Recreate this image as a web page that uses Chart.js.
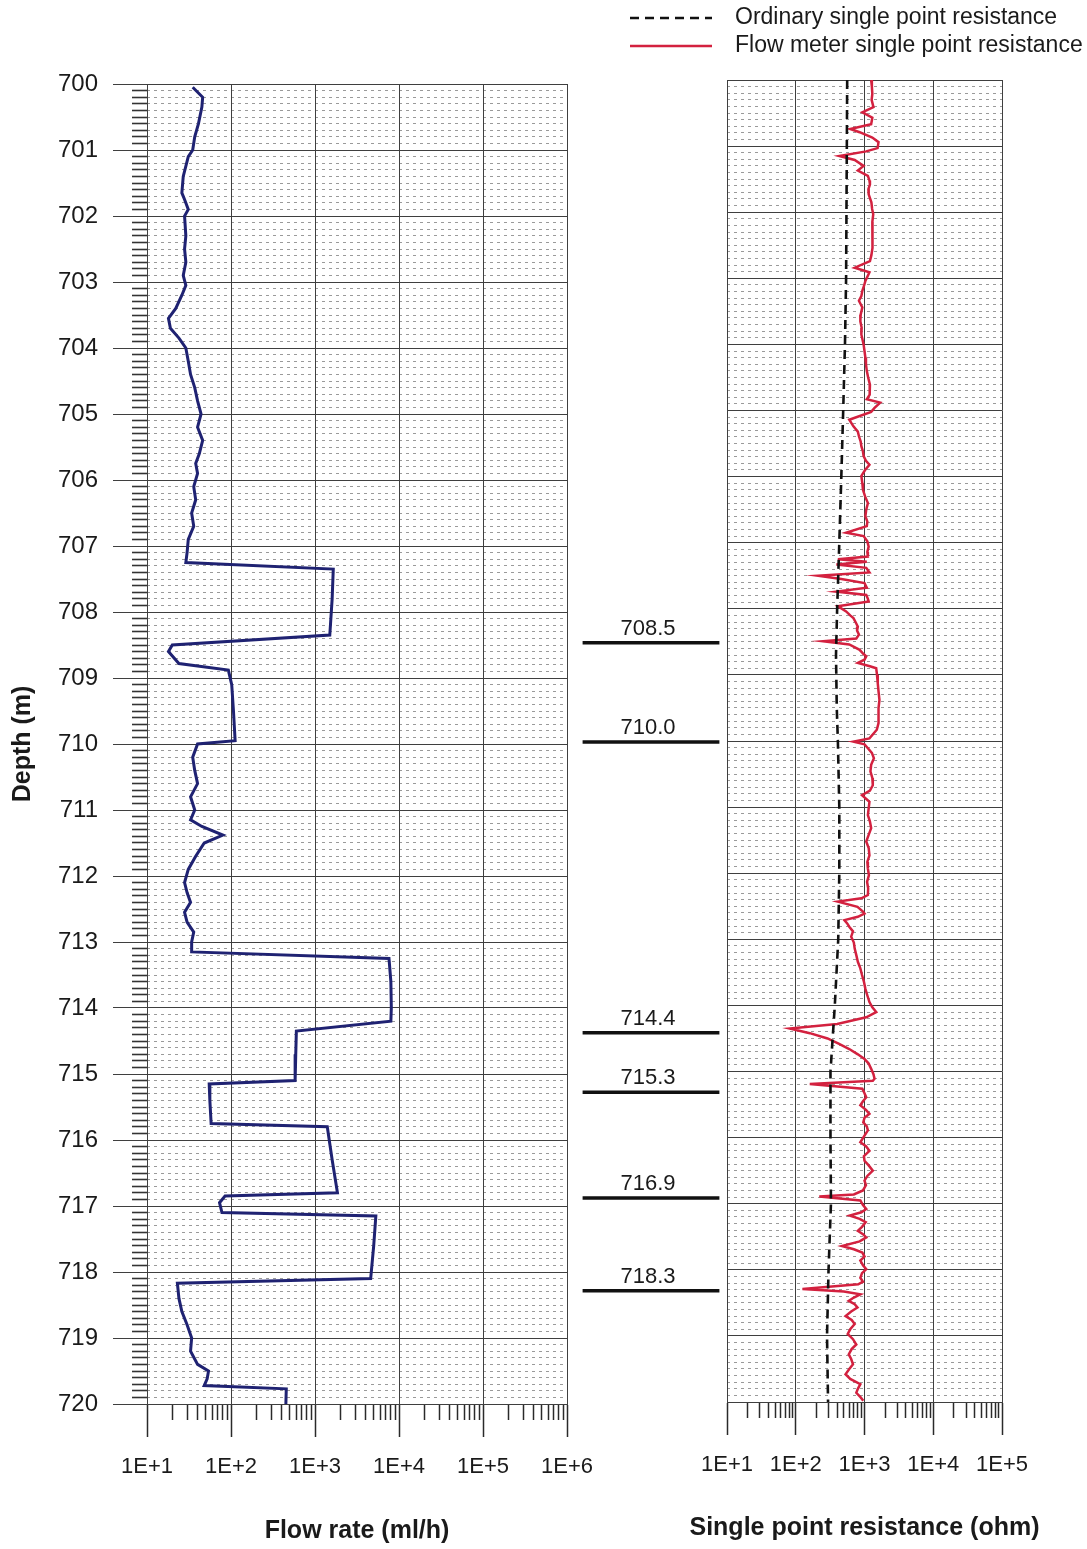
<!DOCTYPE html>
<html>
<head>
<meta charset="utf-8">
<title>Flow rate and single point resistance, 700-720 m</title>
<script src="https://cdn.jsdelivr.net/npm/chart.js@4.4.1/dist/chart.umd.min.js"></script>
<style>
  html, body { margin: 0; padding: 0; background: #fff; }
  #page { position: relative; width: 1087px; height: 1549px; overflow: hidden; }
  #page canvas { position: absolute; top: 0; }
</style>
</head>
<body>
<div id="page">
  <canvas id="flowChart" width="610" height="1549" style="left:0"></canvas>
  <canvas id="sprChart" width="487" height="1549" style="left:600px"></canvas>
  <canvas id="markChart" width="152" height="1549" style="left:575px"></canvas>
</div>
<script>
// logged interval (m)
const depthTop = 700;
const depthBottom = 720;
const depthTicks = [700, 701, 702, 703, 704, 705, 706, 707, 708, 709, 710,
                    711, 712, 713, 714, 715, 716, 717, 718, 719, 720];

const flowDecades = [1e1, 1e2, 1e3, 1e4, 1e5, 1e6];
const flowTickLabels = ['1E+1', '1E+2', '1E+3', '1E+4', '1E+5', '1E+6'];
const sprDecades = [1e1, 1e2, 1e3, 1e4, 1e5];
const sprTickLabels = ['1E+1', '1E+2', '1E+3', '1E+4', '1E+5'];

// flow rate log, [depth m, ml/h]
const flowRate = [
  [700.05, 35], [700.2, 46], [700.35, 45], [700.6, 41], [700.8, 37], [701.0, 35],
  [701.1, 31], [701.4, 27], [701.65, 26], [701.75, 28], [701.9, 31], [702.0, 28],
  [702.3, 29], [702.5, 28], [702.7, 29], [702.9, 27], [703.05, 29], [703.2, 26],
  [703.4, 22], [703.55, 18], [703.7, 19], [703.85, 24], [704.0, 29], [704.2, 31],
  [704.4, 33], [704.6, 37], [704.8, 40], [705.0, 44], [705.2, 40], [705.4, 46],
  [705.6, 42], [705.75, 38], [705.9, 40], [706.1, 36], [706.3, 38], [706.5, 34],
  [706.7, 36], [706.9, 31], [707.1, 30], [707.25, 29], [707.35, 1650], [707.8, 1600],
  [708.35, 1500], [708.5, 20], [708.6, 18], [708.78, 24], [708.88, 93], [709.1, 102],
  [709.5, 107], [709.95, 112], [710.0, 40], [710.2, 35], [710.4, 37], [710.6, 40],
  [710.8, 33], [711.0, 37], [711.15, 33], [711.25, 45], [711.38, 80], [711.5, 48],
  [711.7, 38], [711.9, 31], [712.1, 28], [712.25, 30], [712.4, 33], [712.55, 28],
  [712.7, 30], [712.85, 36], [713.0, 34], [713.15, 34], [713.25, 7600], [713.6, 8000],
  [714.0, 8100], [714.2, 8000], [714.35, 600], [714.7, 590], [715.1, 580], [715.15, 55],
  [715.4, 56], [715.75, 58], [715.8, 1400], [716.3, 1600], [716.8, 1850], [716.85, 85],
  [716.95, 73], [717.1, 78], [717.15, 5300], [717.6, 5000], [718.1, 4600], [718.17, 23],
  [718.4, 24], [718.6, 26], [718.8, 30], [719.0, 34], [719.2, 33], [719.4, 40],
  [719.5, 54], [719.62, 52], [719.72, 48], [719.77, 455], [720.0, 450]
];

// ordinary single point resistance, [depth m, ohm]
const sprOrdinary = [
  [700, 560], [701.5, 550], [703, 540], [704, 520], [705, 490], [706, 460], [707, 430],
  [708, 400], [708.7, 385], [709.5, 395], [710, 410], [711, 430], [712, 430], [713, 415],
  [714, 370], [715, 320], [716, 320], [717, 325], [718, 300], [719, 285], [720, 295]
];

// single point resistance measured with the flow meter, [depth m, ohm]
const sprFlowMeter = [
  [700.0, 1250], [700.1, 1280], [700.21, 1300], [700.3, 1270], [700.41, 1350], [700.49, 930],
  [700.57, 1300], [700.67, 1250], [700.74, 620], [700.79, 850], [700.87, 1300], [700.94, 1600],
  [701.03, 1550], [701.08, 1060], [701.15, 430], [701.21, 720], [701.3, 970], [701.37, 800],
  [701.45, 1120], [701.52, 1180], [701.58, 1200], [701.65, 1140], [701.73, 1150], [701.85, 1260],
  [701.95, 1290], [702.03, 1340], [702.15, 1300], [702.28, 1290], [702.4, 1320], [702.54, 1310],
  [702.65, 1260], [702.74, 1200], [702.84, 720], [702.91, 1180], [703.04, 1030], [703.12, 980],
  [703.19, 930], [703.27, 900], [703.34, 830], [703.44, 930], [703.55, 880], [703.65, 870],
  [703.75, 910], [703.85, 900], [704.0, 970], [704.1, 1000], [704.2, 1030], [704.3, 1050],
  [704.4, 1080], [704.5, 1130], [704.61, 1200], [704.7, 1180], [704.76, 1200], [704.83, 1080],
  [704.88, 1690], [704.96, 1400], [705.02, 1250], [705.14, 600], [705.24, 690], [705.32, 800],
  [705.39, 830], [705.47, 880], [705.54, 900], [705.62, 950], [705.69, 970], [705.76, 1050],
  [705.82, 1180], [705.9, 1020], [705.99, 900], [706.1, 930], [706.2, 950], [706.3, 1020],
  [706.4, 1120], [706.5, 1060], [706.6, 1030], [706.68, 1100], [706.75, 1080], [706.85, 540],
  [706.9, 970], [706.98, 1100], [707.06, 1150], [707.14, 1100], [707.21, 1120], [707.25, 410],
  [707.29, 1080], [707.33, 390], [707.38, 1060], [707.45, 1180], [707.5, 210], [707.55, 460],
  [707.61, 1000], [707.68, 1080], [707.74, 390], [707.79, 1060], [707.85, 1120], [707.89, 1150],
  [707.96, 410], [708.04, 540], [708.1, 620], [708.14, 690], [708.2, 740], [708.27, 800],
  [708.33, 780], [708.39, 830], [708.45, 760], [708.49, 250], [708.54, 600], [708.62, 850],
  [708.68, 960], [708.72, 1060], [708.77, 1000], [708.82, 800], [708.87, 1200], [708.9, 1480],
  [709.0, 1520], [709.13, 1560], [709.25, 1600], [709.38, 1650], [709.5, 1600], [709.63, 1620],
  [709.73, 1580], [709.83, 1510], [709.96, 1180], [710.01, 690], [710.05, 1000], [710.11, 1120],
  [710.18, 1280], [710.26, 1370], [710.36, 1250], [710.46, 1220], [710.56, 1300], [710.67, 1320],
  [710.75, 1200], [710.82, 920], [710.92, 1180], [711.02, 1150], [711.12, 1120], [711.22, 1200],
  [711.32, 1250], [711.42, 1150], [711.52, 1060], [711.62, 1150], [711.73, 1180], [711.83, 1100],
  [711.93, 1120], [712.03, 1160], [712.13, 1090], [712.23, 1130], [712.33, 1120], [712.38, 900],
  [712.43, 410], [712.51, 790], [712.58, 950], [712.61, 1000], [712.66, 800], [712.71, 510],
  [712.76, 560], [712.81, 600], [712.88, 680], [712.96, 640], [713.05, 700], [713.14, 720],
  [713.24, 760], [713.34, 800], [713.44, 870], [713.54, 920], [713.64, 980], [713.75, 1030],
  [713.85, 1100], [713.95, 1180], [714.03, 1300], [714.1, 1480], [714.18, 1060], [714.28, 400],
  [714.35, 82], [714.42, 160], [714.5, 290], [714.58, 420], [714.66, 600], [714.74, 800],
  [714.81, 1000], [714.88, 1150], [714.96, 1250], [715.04, 1350], [715.11, 1400], [715.14, 1320],
  [715.19, 160], [715.26, 930], [715.33, 1000], [715.39, 1060], [715.45, 950], [715.51, 870],
  [715.58, 1050], [715.64, 1180], [715.7, 1000], [715.77, 960], [715.83, 1080], [715.89, 1120],
  [715.97, 1000], [716.07, 870], [716.13, 1050], [716.2, 1180], [716.28, 980], [716.35, 1000],
  [716.42, 1150], [716.5, 1320], [716.58, 1100], [716.65, 1000], [716.72, 1050], [716.8, 950],
  [716.86, 700], [716.89, 220], [716.95, 870], [717.02, 950], [717.08, 1060], [717.13, 900],
  [717.18, 610], [717.23, 850], [717.28, 1040], [717.35, 920], [717.41, 800], [717.46, 950],
  [717.51, 1060], [717.57, 850], [717.64, 470], [717.69, 700], [717.74, 930], [717.8, 1000],
  [717.86, 870], [717.93, 950], [717.99, 1060], [718.05, 920], [718.12, 870], [718.18, 950],
  [718.22, 810], [718.29, 125], [718.33, 500], [718.37, 870], [718.42, 700], [718.47, 590],
  [718.52, 720], [718.57, 790], [718.63, 640], [718.7, 530], [718.76, 650], [718.82, 720],
  [718.9, 620], [718.97, 570], [719.05, 680], [719.13, 760], [719.2, 650], [719.28, 590],
  [719.35, 640], [719.43, 680], [719.5, 600], [719.58, 530], [719.65, 620], [719.73, 870],
  [719.8, 800], [719.86, 760], [719.93, 880], [719.98, 960]
];

// depths picked out between the two logs (m)
const markerDepths = [708.5, 710.0, 714.4, 715.3, 716.9, 718.3];

const FONT = '"Liberation Sans", Arial, Helvetica, sans-serif';
const textColor = '#1a1a1a';
const gridColor = '#3f3f3f';
const dotColor = '#9a9a9a';

function toPoints(rows) {
  return rows.map(([depth, value]) => ({ x: value, y: depth }));
}

// 0.1 m rows between the metre lines
const tenths = [];
for (let i = 1; i < (depthBottom - depthTop) * 10; i++) {
  if (i % 10) tenths.push(depthTop + i / 10);
}

function minorLogTicks(decades) {
  const out = [];
  decades.slice(0, -1).forEach(d => {
    for (let m = 2; m <= 9; m++) out.push(m * d);
  });
  return out;
}

function panelScales(cfg) {
  const xMax = cfg.decades[cfg.decades.length - 1];
  return {
    yMinor: {
      type: 'linear', position: 'left', reverse: true,
      min: depthTop, max: depthBottom, weight: 0,
      afterBuildTicks: s => { s.ticks = tenths.map(v => ({ value: v })); },
      afterFit: s => { s.width = 0; },
      ticks: { display: false, autoSkip: false },
      grid: {
        z: -2, color: dotColor, lineWidth: 1,
        drawTicks: cfg.depthLabels, tickLength: 15, tickColor: '#333', tickWidth: 1.6, tickBorderDash: []
      },
      border: { display: false, dash: [3, 4] }
    },
    y: {
      type: 'linear', position: 'left', reverse: true,
      min: depthTop, max: depthBottom, weight: 1,
      afterBuildTicks: s => { s.ticks = depthTicks.map(v => ({ value: v })); },
      afterFit: s => { s.width = cfg.yWidth; },
      ticks: {
        display: cfg.depthLabels, autoSkip: false, padding: 15,
        font: { family: FONT, size: 24 }, color: textColor
      },
      grid: { color: gridColor, lineWidth: 1, drawTicks: cfg.depthLabels, tickLength: 34, tickColor: gridColor },
      border: { color: gridColor },
      title: {
        display: cfg.depthLabels, text: 'Depth (m)', color: textColor,
        font: { family: FONT, size: 25, weight: 'bold' }, padding: { top: 8, bottom: 0 }
      }
    },
    xMinor: {
      type: 'logarithmic', position: 'bottom', min: 10, max: xMax, weight: 0,
      afterBuildTicks: s => { s.ticks = minorLogTicks(cfg.decades).map(v => ({ value: v })); },
      afterFit: s => { s.height = 0; },
      ticks: { display: false, autoSkip: false },
      grid: { drawOnChartArea: false, tickLength: 16, tickColor: '#2a2a2a', tickWidth: 1.5 },
      border: { display: false }
    },
    x: {
      type: 'logarithmic', position: 'bottom', min: 10, max: xMax, weight: 1,
      afterBuildTicks: s => { s.ticks = cfg.decades.map(v => ({ value: v })); },
      afterFit: s => { s.height = cfg.xHeight; },
      ticks: {
        autoSkip: false, maxRotation: 0, padding: 17,
        font: { family: FONT, size: 22 }, color: textColor,
        callback: (v, i) => cfg.tickLabels[i]
      },
      grid: { color: gridColor, lineWidth: 1, tickLength: 33, tickColor: '#2a2a2a', tickWidth: 1.5 },
      border: { color: gridColor }
    }
  };
}

// x axis caption centred under the plot area; drawn here so a caption wider
// than the plot is not squeezed to fit
const axisCaption = {
  id: 'axisCaption',
  afterDraw(chart, args, opts) {
    const { ctx, chartArea, scales: { x } } = chart;
    ctx.save();
    ctx.font = 'bold 25px ' + FONT;
    ctx.fillStyle = textColor;
    ctx.textAlign = 'center';
    ctx.textBaseline = 'middle';
    ctx.fillText(opts.text, (chartArea.left + chartArea.right) / 2, x.bottom - opts.gap);
    ctx.restore();
  }
};

const baseOptions = {
  responsive: false,
  animation: false,
  devicePixelRatio: 1,
  indexAxis: 'y',
  elements: { point: { radius: 0 } }
};

// flow rate panel
new Chart(document.getElementById('flowChart'), {
  type: 'line',
  data: {
    datasets: [{
      label: 'Flow rate',
      data: toPoints(flowRate),
      borderColor: '#1f2272',
      borderWidth: 3,
      tension: 0
    }]
  },
  options: {
    ...baseOptions,
    layout: { padding: { top: 84, right: 36, left: 0, bottom: 0 } },
    plugins: {
      legend: { display: false }, tooltip: { enabled: false },
      axisCaption: { text: 'Flow rate (ml/h)', gap: 18 }
    },
    scales: panelScales({
      decades: flowDecades, tickLabels: flowTickLabels,
      depthLabels: true, yWidth: 147, xHeight: 145
    })
  },
  plugins: [axisCaption]
});

// key for the resistance curves, drawn above the right panel
const seriesKey = {
  id: 'seriesKey',
  afterDraw(chart) {
    const ctx = chart.ctx;
    ctx.save();
    ctx.font = '23px ' + FONT;
    ctx.textBaseline = 'middle';
    ctx.fillStyle = textColor;
    chart.data.datasets.forEach((ds, i) => {
      const y = 18 + i * 28;
      ctx.beginPath();
      ctx.strokeStyle = ds.borderColor;
      ctx.lineWidth = ds.borderWidth;
      ctx.setLineDash(ds.borderDash || []);
      ctx.moveTo(30, y);
      ctx.lineTo(112, y);
      ctx.stroke();
      ctx.fillText(ds.label, 135, y);
    });
    ctx.restore();
  }
};

// single point resistance panel
new Chart(document.getElementById('sprChart'), {
  type: 'line',
  data: {
    datasets: [{
      label: 'Ordinary single point resistance',
      data: toPoints(sprOrdinary),
      borderColor: '#111111',
      borderWidth: 2.6,
      borderDash: [9, 6],
      tension: 0
    }, {
      label: 'Flow meter single point resistance',
      data: toPoints(sprFlowMeter),
      borderColor: '#d3213f',
      borderWidth: 2.5,
      tension: 0
    }]
  },
  options: {
    ...baseOptions,
    layout: { padding: { top: 80, right: 85, left: 0, bottom: 0 } },
    plugins: {
      legend: { display: false }, tooltip: { enabled: false },
      axisCaption: { text: 'Single point resistance (ohm)', gap: 21 }
    },
    scales: panelScales({
      decades: sprDecades, tickLabels: sprTickLabels,
      depthLabels: false, yWidth: 127, xHeight: 147
    })
  },
  plugins: [seriesKey, axisCaption]
});

// depth labels written above each marker line
const markerLabels = {
  id: 'markerLabels',
  afterDatasetsDraw(chart) {
    const { ctx, scales: { x, y } } = chart;
    ctx.save();
    ctx.font = '22px ' + FONT;
    ctx.fillStyle = textColor;
    ctx.textAlign = 'center';
    ctx.textBaseline = 'bottom';
    markerDepths.forEach(d => {
      ctx.fillText(d.toFixed(1), x.getPixelForValue(0.48), y.getPixelForValue(d) - 3);
    });
    ctx.restore();
  }
};

// marker lines between the panels
new Chart(document.getElementById('markChart'), {
  type: 'line',
  data: {
    datasets: markerDepths.map(d => ({
      data: [{ x: 0.05, y: d }, { x: 0.95, y: d }],
      borderColor: '#111111',
      borderWidth: 3.5
    }))
  },
  options: {
    ...baseOptions,
    indexAxis: 'x',
    layout: { padding: { top: 81, bottom: 146, left: 0, right: 0 } },
    plugins: { legend: { display: false }, tooltip: { enabled: false } },
    scales: {
      x: { type: 'linear', min: 0, max: 1, display: false },
      y: { type: 'linear', reverse: true, min: depthTop, max: depthBottom, display: false }
    }
  },
  plugins: [markerLabels]
});
</script>
</body>
</html>
